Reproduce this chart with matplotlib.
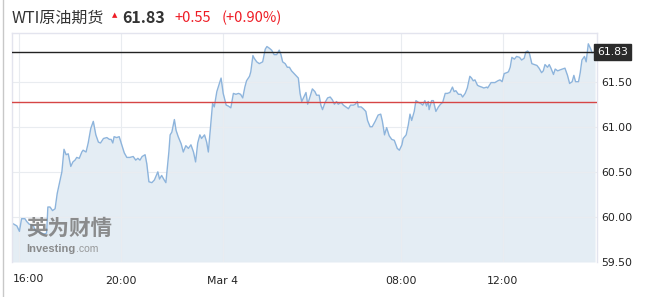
import numpy as np
import matplotlib.pyplot as plt

# trading minutes since 16:00 (the 06:00-07:00 break is skipped) and price
minutes = [-16, -5, 1, 6, 14, 18, 24, 34, 38, 49, 59, 65, 68, 73, 79, 85, 90, 97, 101, 106,
           111, 116, 122, 127, 132, 136, 142, 148, 151, 158, 163, 169, 175, 181, 187, 192, 199, 207, 213, 217,
           221, 224, 230, 236, 242, 248, 254, 261, 269, 275, 280, 285, 290, 297, 301, 306, 313, 319, 327, 331,
           336, 342, 346, 353, 356, 360, 366, 370, 375, 382, 387, 393, 399, 405, 411, 416, 421, 426, 430, 437,
           442, 446, 455, 456, 460, 466, 472, 476, 481, 488, 493, 499, 505, 511, 517, 522, 527, 532, 536, 543,
           546, 551, 554, 560, 566, 574, 580, 584, 590, 595, 601, 607, 613, 617, 621, 627, 632, 637, 642, 648,
           654, 658, 662, 666, 671, 676, 680, 686, 691, 697, 701, 707, 711, 715, 721, 727, 733, 738, 743, 748,
           752, 759, 764, 770, 776, 781, 788, 792, 797, 799, 806, 811, 817, 821, 827, 832, 839, 846, 852, 856,
           861, 866, 872, 878, 884, 891, 896, 902, 905, 912, 917, 921, 925, 931, 935, 941, 946, 951, 956, 960,
           964, 966, 972, 976, 982, 988, 993, 998, 1004, 1009, 1015, 1021, 1025, 1029, 1035, 1041, 1045, 1051, 1056, 1062,
           1066, 1070, 1074, 1080, 1084, 1090, 1095, 1102, 1104, 1112, 1121, 1128, 1133, 1138, 1143, 1149, 1153, 1157, 1161, 1167,
           1172, 1179, 1184, 1190, 1194, 1198, 1202, 1208, 1214, 1220, 1225, 1231, 1235, 1239, 1245, 1249, 1253, 1259, 1263, 1269,
           1274, 1280, 1286, 1292, 1297, 1303, 1307, 1311, 1318, 1322, 1326, 1332, 1336, 1341, 1347, 1350, 1357]
prices = [59.93, 59.90, 59.84, 59.98, 59.98, 59.95, 59.92, 59.90, 59.85, 59.83, 59.81, 59.82, 60.11, 60.11, 60.07, 60.09, 60.26, 60.41, 60.50, 60.75,
          60.69, 60.70, 60.56, 60.61, 60.63, 60.66, 60.65, 60.72, 60.74, 60.72, 60.82, 60.98, 61.06, 60.91, 60.83, 60.82, 60.87, 60.88, 60.86, 60.86,
          60.82, 60.89, 60.88, 60.89, 60.80, 60.71, 60.66, 60.66, 60.67, 60.63, 60.65, 60.63, 60.67, 60.69, 60.59, 60.39, 60.38, 60.41, 60.50, 60.42,
          60.46, 60.41, 60.38, 60.72, 60.91, 60.94, 61.08, 60.96, 60.89, 60.81, 60.72, 60.79, 60.76, 60.80, 60.72, 60.61, 60.82, 60.91, 60.87, 60.91,
          60.83, 60.72, 61.21, 61.26, 61.22, 61.39, 61.48, 61.54, 61.37, 61.24, 61.23, 61.21, 61.37, 61.36, 61.37, 61.36, 61.32, 61.44, 61.51, 61.56,
          61.61, 61.79, 61.76, 61.72, 61.70, 61.72, 61.86, 61.89, 61.87, 61.85, 61.80, 61.80, 61.85, 61.80, 61.72, 61.70, 61.66, 61.66, 61.62, 61.59,
          61.56, 61.54, 61.37, 61.28, 61.33, 61.38, 61.25, 61.34, 61.42, 61.39, 61.35, 61.35, 61.24, 61.19, 61.27, 61.32, 61.33, 61.30, 61.25, 61.28,
          61.25, 61.27, 61.24, 61.22, 61.20, 61.24, 61.24, 61.25, 61.28, 61.22, 61.22, 61.20, 61.17, 61.07, 61.00, 61.00, 61.06, 61.13, 61.14, 61.06,
          60.91, 60.99, 60.90, 60.86, 60.85, 60.76, 60.74, 60.80, 60.87, 60.91, 61.02, 61.14, 61.07, 61.17, 61.29, 61.27, 61.26, 61.24, 61.29, 61.23,
          61.28, 61.19, 61.29, 61.29, 61.17, 61.22, 61.25, 61.27, 61.37, 61.37, 61.38, 61.44, 61.39, 61.40, 61.36, 61.36, 61.33, 61.37, 61.43, 61.56,
          61.54, 61.51, 61.52, 61.46, 61.45, 61.44, 61.43, 61.44, 61.43, 61.49, 61.49, 61.51, 61.52, 61.50, 61.59, 61.60, 61.61, 61.66, 61.77, 61.75,
          61.78, 61.77, 61.74, 61.76, 61.83, 61.84, 61.82, 61.70, 61.69, 61.68, 61.65, 61.60, 61.62, 61.69, 61.66, 61.69, 61.65, 61.58, 61.64, 61.62,
          61.63, 61.64, 61.65, 61.57, 61.48, 61.50, 61.57, 61.50, 61.50, 61.60, 61.74, 61.78, 61.72, 61.92, 61.86, 61.82, 61.83]

last_price = 61.83
prev_close = 61.28
change = "+0.55"
change_pct = "(+0.90%)"
title = "WTI原油期货"

tick_minutes = [0, 240, 480, 900, 1140]
tick_labels = ["16:00", "20:00", "Mar 4", "08:00", "12:00"]
y_ticks = [59.5, 60.0, 60.5, 61.0, 61.5]

plt.rcParams['font.family'] = ['Noto Sans CJK SC', 'DejaVu Sans']

fig = plt.figure(figsize=(6.48, 2.97), dpi=100)
ax = fig.add_axes([12 / 648, 35 / 297, 585 / 648, 229 / 297])

ax.fill_between(minutes, prices, 59.5, color='#e4edf4', lw=0, zorder=1)
ax.plot(minutes, prices, color='#8db4dc', lw=1.0, zorder=2)
ax.axhline(last_price, color='#222222', lw=1.0, zorder=3)
ax.axhline(prev_close, color='#d64545', lw=1.0, zorder=3)

ax.set_xlim(-16.5, 1361.5)
ax.set_ylim(59.5, 62.04)

ax.set_xticks(tick_minutes)
ax.set_xticklabels([""] + tick_labels[1:])
ax.set_yticks(y_ticks)
ax.set_yticklabels([f"{v:.2f}" for v in y_ticks])
ax.yaxis.tick_right()
ax.tick_params(axis='both', length=0, labelsize=7.8, colors='#222222')
ax.tick_params(axis='x', pad=10)
ax.tick_params(axis='y', pad=3)
for lbl in ax.get_yticklabels() + ax.get_xticklabels():
    lbl.set_family(['DejaVu Sans'])

ax.set_axisbelow('line')
ax.grid(True, color='#e9ecf0', lw=0.8)

# first time label sits flush with the left edge
ax.text(0.002, -0.052, tick_labels[0], transform=ax.transAxes, ha='left', va='top',
        fontsize=7.8, color='#222222', family=['DejaVu Sans'])

for side in ['top', 'left', 'right']:
    ax.spines[side].set_color('#e3e4ee')
    ax.spines[side].set_linewidth(1.0)
ax.spines['bottom'].set_visible(False)

# price badge on the right axis
ax.text(1.0, last_price, f"{last_price:.2f}", transform=ax.get_yaxis_transform(),
        ha='left', va='center', fontsize=7.8, color='white', family=['DejaVu Sans'],
        bbox=dict(boxstyle='square,pad=0.25', fc='#2b2b2b', ec='#2b2b2b'))

# watermark
ax.text(0.025, 0.145, "英为财情", transform=ax.transAxes, fontsize=15.5, fontweight='bold',
        color='#7a7a7a', alpha=0.85, ha='left', va='center')
inv = ax.text(0.025, 0.058, "Investing", transform=ax.transAxes, fontsize=8, fontweight='bold',
              color='#7a7a7a', alpha=0.85, ha='left', va='center', family=['Liberation Sans'])
ax.annotate(".com", xy=(1, 0.5), xycoords=inv, ha='left', va='center', fontsize=7.5,
            color='#8a8a8a', alpha=0.85, family=['Liberation Sans'])

# page border on the far left
fig.add_artist(plt.Line2D([2.5 / 648, 2.5 / 648], [0, 1], transform=fig.transFigure,
                          color='#c8c8c8', lw=1.0))

# header
red = '#ee1c25'
fig.text(12 / 648, 1 - 18 / 297, title, fontsize=11.5, color='#333333', va='center', ha='left')
fig.text(112 / 648, 1 - 15 / 297, "▲", fontsize=5, color=red, va='center', ha='left',
         family=['DejaVu Sans'])
fig.text(122 / 648, 1 - 18 / 297, f"{last_price:.2f}", fontsize=11.5, fontweight='bold',
         color='#333333', va='center', ha='left')
fig.text(174 / 648, 1 - 18 / 297, change, fontsize=10.5, color=red, va='center', ha='left')
fig.text(222 / 648, 1 - 18 / 297, change_pct, fontsize=10.5, color=red, va='center', ha='left')

fig.savefig('out.png', dpi=100)
